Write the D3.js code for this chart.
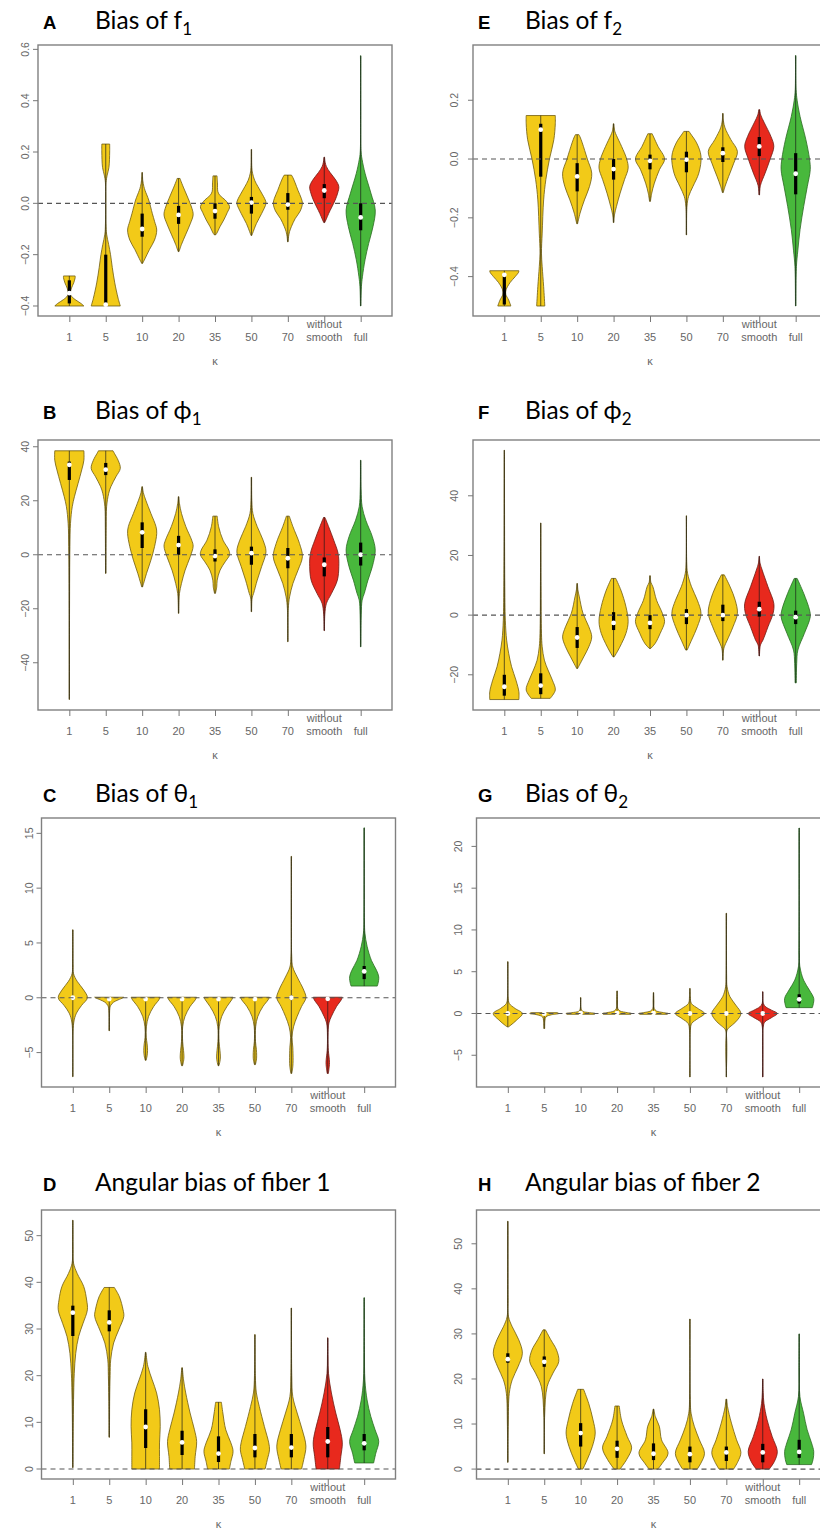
<!DOCTYPE html>
<html>
<head>
<meta charset="utf-8">
<script src="https://cdn.jsdelivr.net/npm/d3@7"></script>
<style>
  body { margin: 0; background: #fff; }
  svg { display: block; }
</style>
</head>
<body>
<div id="fig"></div>
<script>
// categories on the x axis (kappa)
var kappa = ["1", "5", "10", "20", "35", "50", "70", "without smooth", "full"];
var groupOf = ["plain", "plain", "plain", "plain", "plain", "plain", "plain", "nosmooth", "full"];

// violin outlines: [value, relative half width], per category
// box: [q1, median, q3]

// A  Bias of f1
var f1Ticks = [-0.4, -0.2, 0.0, 0.2, 0.4, 0.6];
var f1Range = [-0.439, 0.617];
var f1Shape = [
  [[-0.40,1.0],[-0.39,0.8],[-0.375,0.4],[-0.36,0.12],[-0.35,0.07],[-0.33,0.15],[-0.31,0.3],[-0.29,0.4],[-0.283,0.4]],
  [[-0.40,1.0],[-0.37,0.85],[-0.31,0.62],[-0.25,0.45],[-0.2,0.33],[-0.16,0.2],[-0.12,0.06],[-0.08,0.02],[0.08,0.02],[0.11,0.1],[0.14,0.22],[0.2,0.27],[0.231,0.27]],
  [[-0.234,0.03],[-0.215,0.2],[-0.18,0.5],[-0.143,0.85],[-0.104,1.0],[-0.07,0.85],[-0.04,0.7],[0.013,0.45],[0.05,0.2],[0.065,0.12],[0.09,0.04],[0.12,0.02]],
  [[-0.188,0.03],[-0.16,0.2],[-0.12,0.5],[-0.08,0.8],[-0.045,1.0],[-0.02,0.92],[0.02,0.65],[0.06,0.35],[0.09,0.14],[0.097,0.1]],
  [[-0.123,0.04],[-0.117,0.12],[-0.09,0.35],[-0.065,0.6],[-0.035,0.85],[-0.013,1.0],[0.013,0.7],[0.03,0.35],[0.045,0.2],[0.08,0.17],[0.107,0.14]],
  [[-0.125,0.03],[-0.117,0.08],[-0.078,0.35],[-0.04,0.7],[0.0,1.0],[0.013,0.95],[0.04,0.7],[0.065,0.45],[0.09,0.22],[0.117,0.08],[0.14,0.03],[0.21,0.015]],
  [[-0.15,0.02],[-0.13,0.05],[-0.11,0.12],[-0.09,0.25],[-0.06,0.5],[-0.03,0.85],[0.0,1.0],[0.02,0.92],[0.05,0.7],[0.08,0.5],[0.1,0.35],[0.11,0.25]],
  [[-0.075,0.03],[-0.06,0.15],[-0.04,0.3],[0.013,0.75],[0.04,0.92],[0.065,1.0],[0.09,0.8],[0.12,0.4],[0.143,0.15],[0.16,0.06],[0.18,0.02]],
  [[-0.40,0.015],[-0.325,0.05],[-0.286,0.12],[-0.22,0.3],[-0.156,0.55],[-0.09,0.85],[-0.026,1.0],[0.04,0.7],[0.117,0.3],[0.17,0.1],[0.2,0.03],[0.575,0.015]]
];
var f1Box = [[-0.39,-0.35,-0.30],[-0.395,-0.395,-0.2],[-0.13,-0.10,-0.04],[-0.08,-0.045,-0.01],[-0.06,-0.03,0.0],
             [-0.04,0.003,0.025],[-0.025,-0.005,0.04],[0.02,0.05,0.075],[-0.105,-0.055,0.0]];

// E  Bias of f2
var f2Ticks = [-0.4, -0.2, 0.0, 0.2];
var f2Range = [-0.534, 0.388];
var f2Shape = [
  [[-0.5,0.45],[-0.48,0.3],[-0.46,0.1],[-0.445,0.12],[-0.42,0.4],[-0.40,0.75],[-0.385,0.98],[-0.38,1.0]],
  [[-0.5,0.28],[-0.434,0.2],[-0.366,0.1],[-0.32,0.05],[-0.252,0.1],[-0.139,0.2],[-0.07,0.35],[0.0,0.6],[0.066,0.9],[0.12,1.0],[0.148,1.0]],
  [[-0.22,0.03],[-0.184,0.2],[-0.139,0.5],[-0.093,0.85],[-0.048,1.0],[0.0,0.7],[0.055,0.35],[0.075,0.2],[0.083,0.12]],
  [[-0.216,0.02],[-0.19,0.06],[-0.161,0.2],[-0.116,0.45],[-0.07,0.75],[-0.031,1.0],[0.0,0.9],[0.043,0.55],[0.08,0.2],[0.095,0.08],[0.12,0.02]],
  [[-0.144,0.03],[-0.116,0.12],[-0.082,0.3],[-0.036,0.65],[0.0,1.0],[0.043,0.55],[0.075,0.25],[0.086,0.15]],
  [[-0.258,0.015],[-0.16,0.04],[-0.127,0.15],[-0.093,0.45],[-0.048,0.85],[0.01,1.0],[0.055,0.7],[0.085,0.3],[0.094,0.18]],
  [[-0.114,0.03],[-0.093,0.15],[-0.059,0.4],[-0.014,0.75],[0.026,1.0],[0.066,0.55],[0.106,0.15],[0.13,0.04],[0.155,0.02]],
  [[-0.122,0.02],[-0.09,0.08],[-0.048,0.4],[0.0,0.75],[0.043,1.0],[0.077,0.8],[0.123,0.35],[0.15,0.1],[0.168,0.03]],
  [[-0.5,0.015],[-0.366,0.05],[-0.31,0.15],[-0.24,0.3],[-0.161,0.55],[-0.093,0.8],[-0.036,1.0],[0.0,0.95],[0.066,0.7],[0.145,0.3],[0.2,0.1],[0.236,0.03],[0.352,0.015]]
];
var f2Box = [[-0.495,-0.394,-0.39],[-0.06,0.1,0.12],[-0.11,-0.059,-0.014],[-0.07,-0.034,0.0],[-0.035,-0.006,0.015],
             [-0.045,-0.002,0.025],[-0.01,0.02,0.04],[0.01,0.043,0.075],[-0.12,-0.05,0.02]];

// B  Bias of phi1
var phi1Ticks = [-40, -20, 0, 20, 40];
var phi1Range = [-57.5, 42.5];
var phi1Shape = [
  [[-53.6,0.01],[-20,0.015],[3,0.04],[11.6,0.08],[17.8,0.2],[21.5,0.35],[26.4,0.6],[31.4,0.85],[35,1.0],[38.5,1.0]],
  [[-6.9,0.015],[10,0.03],[17.8,0.06],[22.7,0.2],[25.2,0.35],[28.9,0.7],[32,1.0],[35,0.85],[37.5,0.6],[38.5,0.5]],
  [[-11.9,0.03],[-10.6,0.1],[-6.9,0.3],[-2,0.6],[3,0.85],[7.9,1.0],[10.4,0.95],[15.3,0.6],[20.2,0.25],[23,0.08],[25.2,0.02]],
  [[-21.7,0.015],[-17,0.03],[-14.3,0.06],[-10.6,0.2],[-5.7,0.45],[-0.7,0.8],[3.2,1.0],[5.4,0.9],[10.4,0.5],[15.3,0.2],[19,0.06],[21.5,0.02]],
  [[-14.3,0.03],[-11.9,0.12],[-9.4,0.15],[-5.7,0.35],[-2.6,0.7],[0,1.0],[1.7,0.95],[5.4,0.55],[10.4,0.25],[14.3,0.15]],
  [[-21.1,0.015],[-16,0.05],[-14.3,0.15],[-9.4,0.4],[-4.4,0.7],[1.1,1.0],[5.4,0.8],[10.4,0.4],[15.3,0.1],[20,0.03],[28.7,0.015]],
  [[-32.2,0.015],[-20,0.03],[-15.6,0.12],[-10.6,0.35],[-5.7,0.7],[-0.7,1.0],[4.2,0.8],[10.4,0.35],[14.3,0.1]],
  [[-28.1,0.015],[-22,0.04],[-18,0.15],[-14.3,0.5],[-9.4,0.9],[-4.4,1.0],[0.5,0.95],[5.4,0.65],[10.4,0.3],[13.8,0.05]],
  [[-34.1,0.015],[-22,0.04],[-16.8,0.1],[-14.3,0.25],[-9.4,0.5],[-4.4,0.8],[1.7,1.0],[6.7,0.8],[12.8,0.35],[17.8,0.1],[24,0.03],[35,0.015]]
];
var phi1Box = [[27.7,33.3,34.5],[29.5,31.5,34],[2.5,8.3,12],[0,3.6,7],[-2.5,-0.5,2],[-3.7,0.6,3],[-5,-1.3,2.5],[-8,-3.7,-1],[-4,0,4.5]];

// F  Bias of phi2
var phi2Ticks = [-20, 0, 20, 40];
var phi2Range = [-31.8, 58.7];
var phi2Shape = [
  [[-28.3,1.0],[-25.7,1.0],[-21.8,0.8],[-17.3,0.5],[-12.8,0.3],[-8.4,0.16],[-1.7,0.07],[11.7,0.03],[55.3,0.01]],
  [[-27.9,0.65],[-25.1,1.0],[-21.8,0.8],[-18.4,0.5],[-15.1,0.25],[-10.6,0.1],[-6.1,0.05],[10,0.02],[30.9,0.01]],
  [[-17.9,0.03],[-16.8,0.15],[-14,0.45],[-10.6,0.8],[-7.3,1.0],[-3.9,0.8],[0.6,0.4],[6.1,0.15],[8.5,0.05],[10.6,0.02]],
  [[-14,0.04],[-12.3,0.25],[-9.5,0.55],[-6.1,0.85],[-2.2,1.0],[2.8,0.85],[8.4,0.5],[12.3,0.15]],
  [[-11.2,0.04],[-9.5,0.35],[-6.1,0.7],[-2.2,1.0],[0.6,0.85],[5,0.45],[9.5,0.2],[11,0.06],[13.2,0.02]],
  [[-11.7,0.05],[-8.4,0.35],[-3.9,0.75],[0.6,1.0],[5,0.75],[9.5,0.35],[14,0.08],[18,0.02],[33.3,0.01]],
  [[-15.1,0.015],[-12,0.04],[-10.6,0.1],[-8.4,0.3],[-3.9,0.7],[0.6,1.0],[5,0.85],[9.5,0.5],[13.5,0.1]],
  [[-13.7,0.015],[-10,0.08],[-8.4,0.25],[-3.9,0.6],[0.6,0.95],[3.9,1.0],[9.5,0.6],[15.1,0.2],[17.5,0.05],[19.7,0.015]],
  [[-22.7,0.04],[-16.2,0.07],[-11.7,0.15],[-6.1,0.6],[-0.6,1.0],[1.7,0.95],[7.3,0.55],[12.3,0.1]]
];
var phi2Box = [[-27,-24,-20],[-26.5,-23.6,-19.5],[-11,-7.5,-4],[-5,-2.6,1],[-4.7,-2.6,0],[-3,0,2],[-2,0,3.5],[-0.5,2,4.5],[-3,-0.7,1.5]];

// C  Bias of theta1
var theta1Ticks = [-5, 0, 5, 10, 15];
var theta1Range = [-8.14, 16.4];
var theta1Shape = [
  [[-7.2,0.015],[-2.3,0.06],[-1.4,0.25],[-0.7,0.6],[0,1.0],[0.7,0.75],[1.5,0.3],[2.2,0.05],[3,0.02],[6.2,0.015]],
  [[-3.0,0.02],[-1.0,0.04],[-0.7,0.1],[-0.4,0.3],[-0.2,0.6],[0,0.95],[0.05,1.0]],
  [[-5.7,0.03],[-5.3,0.1],[-4.8,0.13],[-4.2,0.1],[-3.6,0.04],[-2.65,0.05],[-1.7,0.2],[-0.8,0.55],[-0.2,0.9],[0.05,1.0]],
  [[-6.2,0.03],[-5.8,0.1],[-5.4,0.13],[-4.8,0.1],[-4.0,0.04],[-2.65,0.04],[-1.7,0.2],[-0.8,0.55],[-0.2,0.9],[0.05,1.0]],
  [[-6.2,0.03],[-5.8,0.1],[-5.4,0.13],[-4.8,0.1],[-4.0,0.04],[-2.65,0.05],[-1.7,0.22],[-0.8,0.58],[-0.2,0.9],[0.05,1.0]],
  [[-6.1,0.03],[-5.7,0.1],[-5.3,0.12],[-4.7,0.1],[-4.0,0.04],[-2.65,0.05],[-1.7,0.2],[-0.8,0.55],[-0.2,0.9],[0.05,1.0]],
  [[-6.9,0.03],[-6.3,0.1],[-5.7,0.12],[-4.5,0.1],[-3.6,0.05],[-2.65,0.15],[-1.7,0.4],[-0.8,0.7],[0,1.0],[0.7,0.85],[1.9,0.4],[2.8,0.1],[4,0.02],[12.9,0.015]],
  [[-6.9,0.04],[-6.3,0.1],[-5.9,0.12],[-5.3,0.08],[-4.8,0.04],[-3.5,0.02],[-2.3,0.08],[-1.7,0.25],[-0.8,0.6],[-0.2,0.92],[0.05,1.0]],
  [[1.07,0.9],[1.3,0.95],[1.9,1.0],[2.5,0.85],[3.4,0.5],[4.7,0.2],[5.9,0.05],[7,0.02],[15.5,0.015]]
];
var theta1Box = [[-0.15,0,0.15],[-0.15,-0.12,0.0],[-0.2,-0.12,0.0],[-0.2,-0.12,0.0],[-0.2,-0.12,0.0],
                 [-0.2,-0.12,0.0],[-0.2,0,0.2],[-0.2,-0.1,0.0],[1.7,2.4,2.9]];

// G  Bias of theta2
var theta2Ticks = [-5, 0, 5, 10, 15, 20];
var theta2Range = [-8.8, 23.4];
var theta2Shape = [
  [[-1.6,0.05],[-1.4,0.2],[-0.8,0.6],[0,1.0],[0.6,0.5],[1.2,0.1],[2,0.02],[6.2,0.015]],
  [[-1.8,0.03],[-0.8,0.05],[-0.4,0.12],[-0.15,0.5],[0,1.0],[0.1,0.9]],
  [[-0.1,0.95],[0,1.0],[0.1,0.6],[0.25,0.15],[0.5,0.04],[1.9,0.015]],
  [[-0.1,0.95],[0,1.0],[0.1,0.7],[0.3,0.2],[0.6,0.05],[1.5,0.03],[2.7,0.015]],
  [[-0.1,0.95],[0,1.0],[0.1,0.7],[0.3,0.2],[0.6,0.05],[1.5,0.03],[2.5,0.015]],
  [[-7.6,0.015],[-2,0.03],[-1.2,0.12],[-0.6,0.55],[0,1.0],[0.6,0.55],[1.2,0.1],[2,0.03],[3.0,0.015]],
  [[-7.6,0.015],[-2,0.05],[-1.6,0.25],[-1,0.65],[0,1.0],[1,0.65],[2,0.25],[3.2,0.05],[4.5,0.02],[12,0.015]],
  [[-7.6,0.015],[-1.5,0.04],[-1.0,0.15],[-0.5,0.6],[0,1.0],[0.4,0.6],[0.8,0.2],[1.2,0.04],[2.6,0.015]],
  [[0.7,0.9],[1,0.95],[1.8,1.0],[2.8,0.7],[4,0.3],[5.6,0.05],[7,0.02],[22.2,0.015]]
];
var theta2Box = [[-0.1,0,0.1],[-0.05,-0.02,0.02],[0,0.05,0.1],[0,0.05,0.1],[0,0.05,0.1],
                 [-0.1,0,0.1],[-0.15,0,0.15],[-0.1,0,0.1],[1.2,1.7,2.3]];

// D  Angular bias of fiber 1
var ang1Ticks = [0, 10, 20, 30, 40, 50];
var ang1Range = [-2.14, 55.5];
var ang1Shape = [
  [[0.3,0.015],[10,0.03],[16.3,0.06],[20.5,0.1],[24.8,0.2],[28.4,0.4],[31.2,0.7],[34.1,1.0],[36.2,0.95],[39.1,0.75],[41.9,0.3],[44.1,0.05],[47,0.02],[53.3,0.015]],
  [[6.8,0.015],[15,0.03],[20,0.06],[23.4,0.1],[27,0.3],[29.8,0.65],[32.7,1.0],[34.1,0.95],[36.9,0.7],[38.9,0.35]],
  [[0,0.95],[2.7,0.95],[5.6,0.95],[9.1,1.0],[12.7,0.95],[16.3,0.75],[19.1,0.45],[22,0.15],[25,0.02]],
  [[0,0.85],[2.7,0.9],[5.9,1.0],[8.4,0.85],[12,0.55],[16.3,0.25],[19.1,0.1],[21.7,0.02]],
  [[0,0.75],[1.6,0.85],[3.8,1.0],[5.6,0.85],[8.4,0.5],[12,0.3],[14.3,0.2]],
  [[0,0.7],[2,0.85],[4.1,1.0],[5.6,0.95],[9.1,0.65],[13.4,0.3],[16.3,0.1],[20,0.03],[28.8,0.015]],
  [[0,0.7],[2,0.85],[4.9,1.0],[8.4,0.75],[12,0.4],[15.5,0.1],[20,0.03],[34.5,0.015]],
  [[0,0.8],[2.7,0.9],[5.6,1.0],[8.4,0.85],[12,0.55],[16.3,0.25],[20.5,0.05],[24,0.02],[28.1,0.015]],
  [[1.3,0.65],[3.4,0.8],[5.9,1.0],[8.4,0.75],[11.3,0.45],[14.8,0.2],[19.1,0.05],[25,0.02],[36.7,0.015]]
];
var ang1Box = [[28.5,33.5,35],[29.5,31.4,34],[4.5,9,12.8],[3,5.7,8.2],[1.5,3.3,7],[2.5,4.5,7.5],[2.5,4.6,7.5],[2.5,5.9,9],[4,5.5,7.5]];

// H  Angular bias of fiber 2
var ang2Ticks = [0, 10, 20, 30, 40, 50];
var ang2Range = [-2.2, 57.5];
var ang2Shape = [
  [[1.5,0.015],[10,0.03],[16.8,0.1],[19.8,0.3],[22.7,0.7],[25.7,1.0],[28.7,0.75],[31.6,0.3],[33.8,0.05],[38,0.02],[55,0.015]],
  [[3.4,0.015],[12,0.03],[18.3,0.2],[21.3,0.6],[23.9,1.0],[26.4,0.85],[28.7,0.45],[30.9,0.08]],
  [[0,0.15],[2.1,0.45],[5,0.8],[8,1.0],[10.9,0.85],[14.6,0.55],[17.7,0.2]],
  [[0,0.2],[2.1,0.65],[4.7,1.0],[7.2,0.7],[10.9,0.3],[14,0.15]],
  [[0,0.3],[1.3,0.6],[3.5,1.0],[6.5,0.55],[9.5,0.4],[11.7,0.12],[13.3,0.03]],
  [[0,0.5],[1.3,0.75],[3.5,1.0],[6.5,0.65],[9.5,0.3],[12.4,0.08],[16,0.02],[33.3,0.015]],
  [[0,0.5],[1.7,0.8],[3.7,1.0],[6.5,0.7],[10.2,0.35],[13.9,0.08],[15.5,0.03]],
  [[0,0.45],[1.7,0.8],[3.9,1.0],[7.2,0.65],[10.9,0.3],[14.6,0.08],[17,0.03],[20,0.015]],
  [[1,0.85],[2.1,0.95],[3.9,1.0],[5.8,0.85],[8.7,0.55],[12.4,0.3],[16.1,0.05],[22,0.02],[30,0.015]]
];
var ang2Box = [[23.6,24.4,25.7],[22.7,23.8,25],[5,8,10.2],[2.5,4.5,6.3],[2,3.4,5.7],[1.5,3.3,5],[1.8,3.7,5],[1.5,3.7,5.6],[2.5,3.8,6.5]];

// layout
var W = 820, H = 1531;
var rowTop = [45, 440, 818, 1210];
var rowH = [271, 270, 269, 269];
var rowLeft = [38, 38, 41.5, 41.5];
var titleBase = [29, 419, 802, 1191];
var colShift = 435;
var plotW = 354;

var fillColor = { plain: "#f2ca18", nosmooth: "#e8291d", full: "#48b83c" };
var edgeColor = { plain: "#6e5c10", nosmooth: "#6e1a12", full: "#2b6a22" };

var panels = [
  { letter: "A", title: "Bias of f", sub: "1", row: 0, col: 0, shape: f1Shape, box: f1Box, ticks: f1Ticks, range: f1Range, fmt: d3.format(".1f") },
  { letter: "B", title: "Bias of \u03d5", sub: "1", row: 1, col: 0, shape: phi1Shape, box: phi1Box, ticks: phi1Ticks, range: phi1Range, fmt: d3.format("d") },
  { letter: "C", title: "Bias of \u03b8", sub: "1", row: 2, col: 0, shape: theta1Shape, box: theta1Box, ticks: theta1Ticks, range: theta1Range, fmt: d3.format("d") },
  { letter: "D", title: "Angular bias of fiber 1", sub: "", row: 3, col: 0, shape: ang1Shape, box: ang1Box, ticks: ang1Ticks, range: ang1Range, fmt: d3.format("d") },
  { letter: "E", title: "Bias of f", sub: "2", row: 0, col: 1, shape: f2Shape, box: f2Box, ticks: f2Ticks, range: f2Range, fmt: d3.format(".1f") },
  { letter: "F", title: "Bias of \u03d5", sub: "2", row: 1, col: 1, shape: phi2Shape, box: phi2Box, ticks: phi2Ticks, range: phi2Range, fmt: d3.format("d") },
  { letter: "G", title: "Bias of \u03b8", sub: "2", row: 2, col: 1, shape: theta2Shape, box: theta2Box, ticks: theta2Ticks, range: theta2Range, fmt: d3.format("d") },
  { letter: "H", title: "Angular bias of fiber 2", sub: "", row: 3, col: 1, shape: ang2Shape, box: ang2Box, ticks: ang2Ticks, range: ang2Range, fmt: d3.format("d") }
];

var svg = d3.select("#fig").append("svg")
    .attr("width", W)
    .attr("height", H);

svg.append("rect").attr("width", W).attr("height", H).attr("fill", "#fff");

panels.forEach(drawPanel);

function drawPanel(p) {
  var left = rowLeft[p.row] + p.col * colShift,
      top = rowTop[p.row],
      bottom = top + rowH[p.row];

  // R style: categories at 1..9, limits padded 4%
  var x = d3.scaleLinear().domain([0.14, 9.86]).range([left, left + plotW]);
  var y = d3.scaleLinear().domain(p.range).range([bottom, top]);
  var hw = x(1.4) - x(1);

  var g = svg.append("g");

  // titles
  g.append("text")
      .attr("x", (p.col ? 478 : 43))
      .attr("y", titleBase[p.row])
      .attr("font-family", "'Liberation Sans', Arial, sans-serif")
      .attr("font-weight", "bold")
      .attr("font-size", 18.5)
      .text(p.letter);
  var t = g.append("text")
      .attr("x", (p.col ? 525 : 95))
      .attr("y", titleBase[p.row])
      .attr("font-family", "Lato, 'Open Sans', sans-serif")
      .attr("font-size", 24.5)
      .text(p.title);
  if (p.sub) {
    t.append("tspan")
        .attr("font-size", 17)
        .attr("dy", 6)
        .text(p.sub);
  }

  // violins
  kappa.forEach(function(k, i) {
    var cx = x(i + 1);
    var grp = groupOf[i];
    var prof = p.shape[i];
    var area = d3.area()
        .y(function(d) { return y(d[0]); })
        .x0(function(d) { return cx - d[1] * hw; })
        .x1(function(d) { return cx + d[1] * hw; })
        .curve(d3.curveCatmullRom.alpha(0.5));

    g.append("path")
        .attr("d", area(prof))
        .attr("fill", fillColor[grp])
        .attr("stroke", edgeColor[grp])
        .attr("stroke-width", 0.8);

    // whisker
    g.append("line")
        .attr("x1", cx).attr("x2", cx)
        .attr("y1", y(prof[0][0]))
        .attr("y2", y(prof[prof.length - 1][0]))
        .attr("stroke", "#1a1a1a")
        .attr("stroke-opacity", 0.75)
        .attr("stroke-width", 0.9);

    var b = p.box[i];
    g.append("rect")
        .attr("x", cx - 1.6)
        .attr("width", 3.2)
        .attr("y", y(b[2]))
        .attr("height", Math.max(0.5, y(b[0]) - y(b[2])))
        .attr("fill", "#000");

    g.append("circle")
        .attr("cx", cx)
        .attr("cy", y(b[1]))
        .attr("r", 2.4)
        .attr("fill", "#fff");
  });

  // zero reference line
  g.append("line")
      .attr("x1", left).attr("x2", left + plotW)
      .attr("y1", y(0)).attr("y2", y(0))
      .attr("stroke", "#555")
      .attr("stroke-width", 1.1)
      .attr("stroke-dasharray", "5,4");

  // frame
  g.append("rect")
      .attr("x", left).attr("y", top)
      .attr("width", plotW).attr("height", bottom - top)
      .attr("fill", "none")
      .attr("stroke", "#808080")
      .attr("stroke-width", 1.4);

  // y axis
  var ya = g.append("g")
      .attr("transform", "translate(" + left + ",0)")
      .call(d3.axisLeft(y).tickValues(p.ticks).tickFormat(p.fmt).tickSize(5).tickPadding(3));
  ya.select(".domain").remove();
  ya.selectAll("line").attr("stroke", "#777");
  ya.selectAll("text")
      .attr("fill", "#666")
      .attr("font-family", "'Liberation Sans', Arial, sans-serif")
      .attr("font-size", 10.5)
      .attr("text-anchor", "middle")
      .attr("dy", null)
      .attr("x", null)
      .attr("transform", function(d) {
        return "translate(" + (p.col ? -19 : -13) + "," + y(d) + ") rotate(-90)";
      })
      .attr("y", 0)
      .attr("dominant-baseline", "central");
  ya.selectAll(".tick").attr("transform", function(d) { return "translate(0,0)"; });
  ya.selectAll(".tick line").attr("y1", function(d) { return y(d); }).attr("y2", function(d) { return y(d); });

  // x axis
  var xa = g.append("g")
      .attr("transform", "translate(0," + bottom + ")")
      .call(d3.axisBottom(x).tickValues(d3.range(1, 10)).tickFormat("").tickSize(6));
  xa.select(".domain").remove();
  xa.selectAll("line").attr("stroke", "#777");

  kappa.forEach(function(k, i) {
    var parts = k.split(" ");
    parts.forEach(function(s, j) {
      g.append("text")
          .attr("x", x(i + 1))
          .attr("y", bottom + 25 - (parts.length - 1 - j) * 13)
          .attr("text-anchor", "middle")
          .attr("font-family", "'Liberation Sans', Arial, sans-serif")
          .attr("font-size", 11)
          .attr("fill", "#666")
          .text(s);
    });
  });

  g.append("text")
      .attr("x", x(5))
      .attr("y", bottom + 49)
      .attr("text-anchor", "middle")
      .attr("font-family", "'Liberation Sans', Arial, sans-serif")
      .attr("font-size", 11)
      .attr("fill", "#666")
      .text("\u03ba");
}
</script>
</body>
</html>
